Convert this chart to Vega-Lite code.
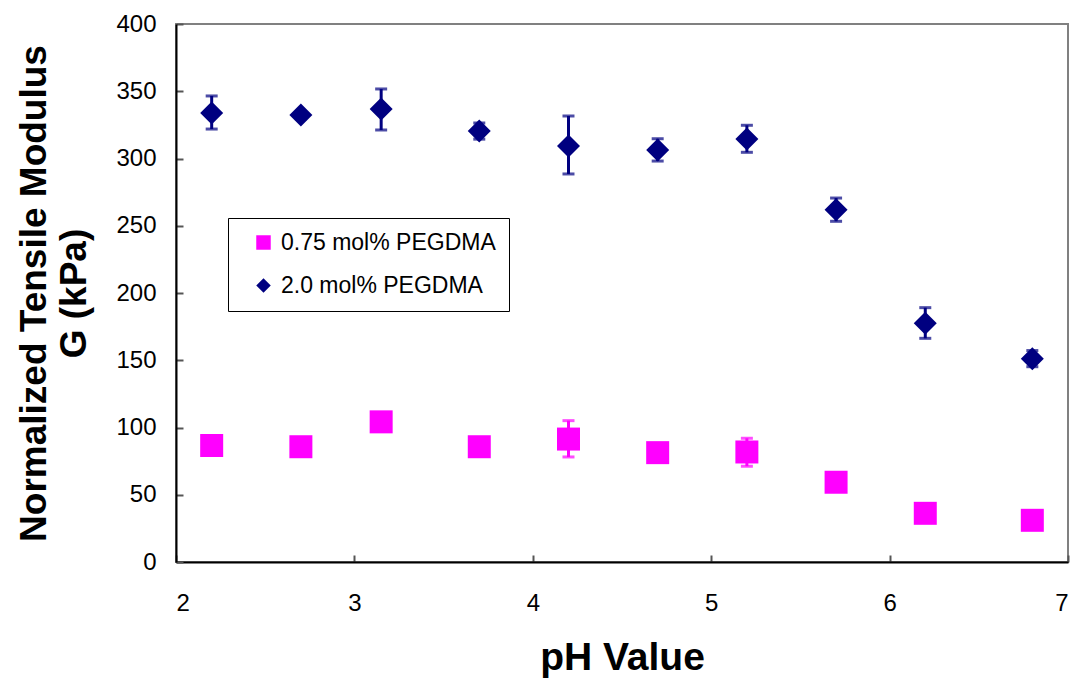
{
  "$schema": "https://vega.github.io/schema/vega-lite/v6.json",
  "width": 892,
  "height": 538,
  "autosize": {"type": "none"},
  "padding": {"left": 176, "top": 24, "right": 8, "bottom": 119},
  "background": "white",
  "config": {
    "font": "Liberation Sans",
    "view": {"stroke": "#808080", "strokeWidth": 2},
    "axis": {
      "grid": false,
      "domainColor": "black",
      "domainWidth": 2,
      "tickColor": "#555555",
      "tickWidth": 2,
      "tickSize": -7,
      "labelFontSize": 24,
      "labelColor": "black",
      "labelFont": "Liberation Sans",
      "titleFont": "Liberation Sans",
      "titleColor": "black",
      "titleFontWeight": "bold"
    },
    "legend": {
      "orient": "none",
      "legendX": 52,
      "legendY": 194,
      "fillColor": "white",
      "strokeColor": "black",
      "padding": 13,
      "labelFontSize": 23,
      "labelFont": "Liberation Sans",
      "labelColor": "black",
      "labelLimit": 400,
      "symbolSize": 210,
      "symbolOpacity": 1,
      "symbolOffset": 11,
      "labelOffset": 6,
      "rowPadding": 19,
      "symbolStrokeWidth": 0
    }
  },
  "data": {
    "values": [
      {"ph": 2.2, "g": 86.6, "lo": 83, "hi": 90, "series": "0.75 mol% PEGDMA"},
      {"ph": 2.7, "g": 85.7, "lo": 82, "hi": 89, "series": "0.75 mol% PEGDMA"},
      {"ph": 3.15, "g": 104.2, "lo": 101, "hi": 108, "series": "0.75 mol% PEGDMA"},
      {"ph": 3.7, "g": 85.7, "lo": 82, "hi": 89, "series": "0.75 mol% PEGDMA"},
      {"ph": 4.2, "g": 91.4, "lo": 78.1, "hi": 105.1, "series": "0.75 mol% PEGDMA"},
      {"ph": 4.7, "g": 81.3, "lo": 77, "hi": 85, "series": "0.75 mol% PEGDMA"},
      {"ph": 5.2, "g": 81.8, "lo": 71.2, "hi": 92, "series": "0.75 mol% PEGDMA"},
      {"ph": 5.7, "g": 59.3, "lo": 56, "hi": 63, "series": "0.75 mol% PEGDMA"},
      {"ph": 6.2, "g": 36.2, "lo": 33, "hi": 40, "series": "0.75 mol% PEGDMA"},
      {"ph": 6.8, "g": 31, "lo": 28, "hi": 34, "series": "0.75 mol% PEGDMA"},
      {"ph": 2.2, "g": 333.8, "lo": 321.9, "hi": 346.5, "series": "2.0 mol% PEGDMA"},
      {"ph": 2.7, "g": 332.3, "lo": 329.5, "hi": 335, "series": "2.0 mol% PEGDMA"},
      {"ph": 3.15, "g": 336.8, "lo": 321.2, "hi": 351.7, "series": "2.0 mol% PEGDMA"},
      {"ph": 3.7, "g": 320.4, "lo": 314.4, "hi": 326.4, "series": "2.0 mol% PEGDMA"},
      {"ph": 4.2, "g": 309.3, "lo": 288.5, "hi": 331.6, "series": "2.0 mol% PEGDMA"},
      {"ph": 4.7, "g": 306.3, "lo": 298.1, "hi": 314.7, "series": "2.0 mol% PEGDMA"},
      {"ph": 5.2, "g": 314.5, "lo": 304.6, "hi": 324.7, "series": "2.0 mol% PEGDMA"},
      {"ph": 5.7, "g": 261.9, "lo": 253.3, "hi": 270.6, "series": "2.0 mol% PEGDMA"},
      {"ph": 6.2, "g": 177.5, "lo": 166.3, "hi": 189.1, "series": "2.0 mol% PEGDMA"},
      {"ph": 6.8, "g": 151.2, "lo": 145.2, "hi": 157.2, "series": "2.0 mol% PEGDMA"}
    ]
  },
  "layer": [
    {
      "mark": {
        "type": "errorbar",
        "ticks": {"size": 12, "thickness": 3},
        "rule": {"strokeWidth": 3}
      },
      "encoding": {
        "x": {
          "field": "ph", "type": "quantitative",
          "scale": {"domain": [2, 7], "nice": false, "zero": false},
          "axis": {"values": [2, 3, 4, 5, 6, 7], "format": "d", "title": "pH Value", "titleFontSize": 39, "labelPadding": 36, "titleY": 107, "titleBaseline": "alphabetic"}
        },
        "y": {
          "field": "lo", "type": "quantitative",
          "scale": {"domain": [0, 400], "nice": false},
          "axis": {"values": [0, 50, 100, 150, 200, 250, 300, 350, 400], "format": "d", "title": ["Normalized Tensile Modulus", "G (kPa)"], "titleFontSize": 37, "titleLineHeight": 40, "titleAngle": -90, "titleX": -142, "titleY": 269, "titleBaseline": "middle", "titleAlign": "center", "labelPadding": 27}
        },
        "y2": {"field": "hi"},
        "color": {
          "field": "series", "type": "nominal",
          "scale": {"domain": ["0.75 mol% PEGDMA", "2.0 mol% PEGDMA"], "range": ["#FF00FF", "#000080"]},
          "legend": {"title": null}
        }
      }
    },
    {
      "mark": {"type": "point", "filled": true, "size": 529, "opacity": 1},
      "encoding": {
        "x": {"field": "ph", "type": "quantitative"},
        "y": {"field": "g", "type": "quantitative"},
        "color": {
          "field": "series", "type": "nominal",
          "scale": {"domain": ["0.75 mol% PEGDMA", "2.0 mol% PEGDMA"], "range": ["#FF00FF", "#000080"]},
          "legend": {"title": null}
        },
        "shape": {
          "field": "series", "type": "nominal",
          "scale": {"domain": ["0.75 mol% PEGDMA", "2.0 mol% PEGDMA"], "range": ["square", "diamond"]},
          "legend": {"title": null}
        }
      }
    }
  ]
}
